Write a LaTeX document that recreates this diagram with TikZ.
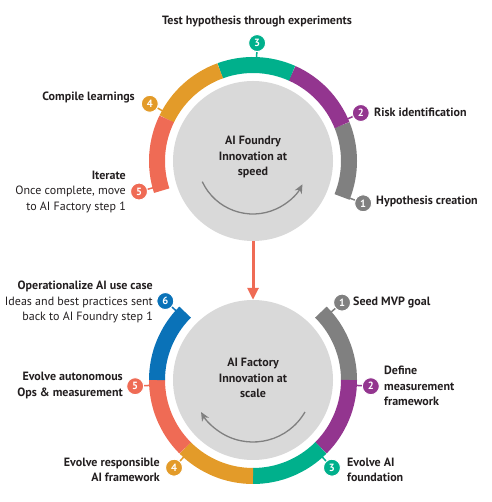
\documentclass[tikz,border=0pt]{standalone}
\usepackage{fontspec}
\setmainfont{PT Sans}
\usetikzlibrary{arrows.meta}

\definecolor{ringgray}{HTML}{808080}
\definecolor{ringpurple}{HTML}{93358F}
\definecolor{ringteal}{HTML}{00B08C}
\definecolor{ringorange}{HTML}{E39B29}
\definecolor{ringcoral}{HTML}{EF6B55}
\definecolor{ringblue}{HTML}{0A72B8}
\definecolor{diskgray}{HTML}{D9D9D9}
\definecolor{txt}{HTML}{231F20}

\begin{document}
\begin{tikzpicture}[x=1pt,y=1pt,
		disk/.style={circle,fill=diskgray,minimum size=160pt,inner sep=0pt},
		seg/.style={line width=16pt},
		badge/.style={circle,fill=#1,draw=white,line width=1pt,text=white,minimum size=17pt,inner sep=0pt,font=\fontsize{10.5}{10.5}\selectfont\bfseries},
		tick/.style={#1,line width=1.5pt},
		lbl/.style={font=\fontsize{12}{15.2}\selectfont\bfseries,text=txt,inner sep=0pt},
		sub/.style={font=\fontsize{12}{15.2}\selectfont,text=txt,inner sep=0pt},
		turn/.style={draw=ringgray,line width=1.3pt,-{Stealth[length=9pt,width=8pt]}}]
		\useasboundingbox (0,0) rectangle (491,502);

		% AI Foundry
		\node[disk] (foundry) at (253,341) {};
		\node[lbl,align=center] (foundrytext) at (253,345) {AI Foundry\\Innovation at\\speed};
		\draw[seg,ringgray] ([shift={(-22:96)}]foundry.center) arc[start angle=-22,end angle=22,radius=96];
		\draw[seg,ringpurple] ([shift={(22:96)}]foundry.center) arc[start angle=22,end angle=66,radius=96];
		\draw[seg,ringteal] ([shift={(66:96)}]foundry.center) arc[start angle=66,end angle=110,radius=96];
		\draw[seg,ringorange] ([shift={(110:96)}]foundry.center) arc[start angle=110,end angle=154,radius=96];
		\draw[seg,ringcoral] ([shift={(154:96)}]foundry.center) arc[start angle=154,end angle=198,radius=96];
		\coordinate (fturn) at (253,344);
		\draw[turn] ([shift={(205:56)}]fturn) arc[start angle=205,end angle=332,radius=56];

		\node[badge=ringgray] (f1) at ([shift={(-21:118)}]foundry.center) {1};
		\node[badge=ringpurple] (f2) at ([shift={(24:118)}]foundry.center) {2};
		\node[badge=ringteal] (f3) at ([shift={(88:118)}]foundry.center) {3};
		\node[badge=ringorange] (f4) at ([shift={(151:118)}]foundry.center) {4};
		\node[badge=ringcoral] (f5) at ([shift={(195:118)}]foundry.center) {5};
		\draw[tick=ringgray] (f1) -- ([shift={(-21:103)}]foundry.center);
		\draw[tick=ringpurple] (f2) -- ([shift={(24:103)}]foundry.center);
		\draw[tick=ringteal] (f3) -- ([shift={(88:103)}]foundry.center);
		\draw[tick=ringorange] (f4) -- ([shift={(151:103)}]foundry.center);
		\draw[tick=ringcoral] (f5) -- ([shift={(195:103)}]foundry.center);

		\node[lbl,anchor=west] (fl1) at (376,301) {Hypothesis creation};
		\node[lbl,anchor=west] (fl2) at (374,390) {Risk identification};
		\node[lbl] (fl3) at (257,480) {Test hypothesis through experiments};
		\node[lbl,anchor=east] (fl4) at (135,405) {Compile learnings};
		\node[sub,anchor=east,align=right] (fl5) at (126,310) {{\bfseries Iterate}\\Once complete, move\\to AI Factory step 1};

		% AI Factory
		\node[disk] (factory) at (253,122) {};
		\node[lbl,align=center] (factorytext) at (253,124) {AI Factory\\Innovation at\\scale};
		\draw[seg,ringgray] ([shift={(45:96)}]factory.center) arc[start angle=45,end angle=0,radius=96];
		\draw[seg,ringpurple] ([shift={(0:96)}]factory.center) arc[start angle=0,end angle=-45,radius=96];
		\draw[seg,ringteal] ([shift={(-45:96)}]factory.center) arc[start angle=-45,end angle=-90,radius=96];
		\draw[seg,ringorange] ([shift={(-90:96)}]factory.center) arc[start angle=-90,end angle=-135,radius=96];
		\draw[seg,ringcoral] ([shift={(-135:96)}]factory.center) arc[start angle=-135,end angle=-180,radius=96];
		\draw[seg,ringblue] ([shift={(-180:96)}]factory.center) arc[start angle=-180,end angle=-225,radius=96];
		\coordinate (cturn) at (253,120);
		\draw[turn] ([shift={(-30:60)}]cturn) arc[start angle=-30,end angle=-150,radius=60];

		\node[badge=ringgray] (c1) at ([shift={(41:118)}]factory.center) {1};
		\node[badge=ringpurple] (c2) at ([shift={(-3:118)}]factory.center) {2};
		\node[badge=ringteal] (c3) at ([shift={(-48:118)}]factory.center) {3};
		\node[badge=ringorange] (c4) at ([shift={(-132:118)}]factory.center) {4};
		\node[badge=ringcoral] (c5) at ([shift={(183:118)}]factory.center) {5};
		\node[badge=ringblue] (c6) at ([shift={(138:118)}]factory.center) {6};
		\draw[tick=ringgray] (c1) -- ([shift={(41:103)}]factory.center);
		\draw[tick=ringpurple] (c2) -- ([shift={(-3:103)}]factory.center);
		\draw[tick=ringteal] (c3) -- ([shift={(-48:103)}]factory.center);
		\draw[tick=ringorange] (c4) -- ([shift={(-132:103)}]factory.center);
		\draw[tick=ringcoral] (c5) -- ([shift={(183:103)}]factory.center);
		\draw[tick=ringblue] (c6) -- ([shift={(138:103)}]factory.center);

		\node[lbl,anchor=west] (cl1) at (353,200) {Seed MVP goal};
		\node[lbl,anchor=west,align=left] (cl2) at (384,116) {Define\\measurement\\framework};
		\node[lbl,anchor=west,align=left] (cl3) at (347,32.5) {Evolve AI\\foundation};
		\node[lbl,anchor=east,align=right] (cl4) at (160,32.5) {Evolve responsible\\AI framework};
		\node[lbl,anchor=east,align=right] (cl5) at (123,116.5) {Evolve autonomous\\Ops \& measurement};
		\node[sub,anchor=east,align=right] (cl6) at (153,200) {{\bfseries Operationalize AI use case}\\Ideas and best practices sent\\back to AI Foundry step 1};

		% Uebergang
		\draw[ringcoral,line width=3pt,-{Triangle[length=12pt,width=11pt]}] (foundry.south) -- (factory.north);
	\end{tikzpicture}
\end{document}
